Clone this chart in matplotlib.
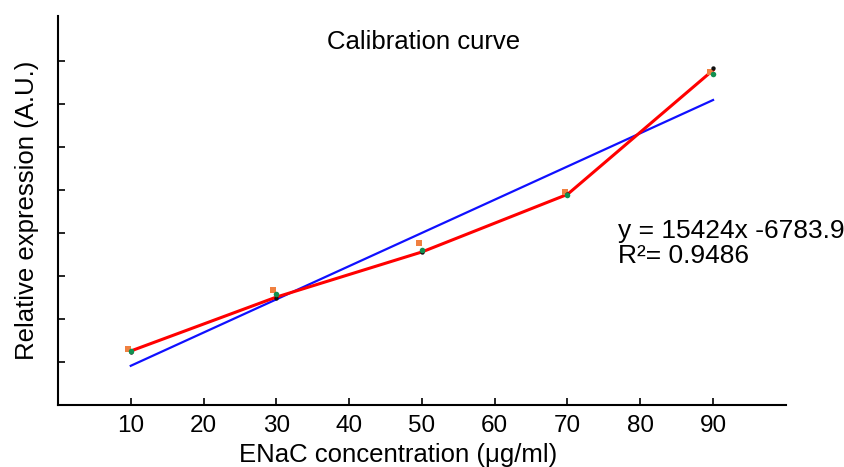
import numpy as np
import matplotlib
matplotlib.use("Agg")
import matplotlib.pyplot as plt

# Data (relative expression, A.U.)
conc = [10, 30, 50, 70, 90]
mean_expr = [12560, 25100, 35600, 49000, 77900]
rep_orange = [13000, 26700, 37700, 49500, 77500]
rep_green = [12500, 25800, 36000, 48900, 77000]
rep_black = [12400, 24800, 35500, 49000, 78400]
xticks = [10, 20, 30, 40, 50, 60, 70, 80, 90]
yticks = [10000, 20000, 30000, 40000, 50000, 60000, 70000, 80000]
eq_text = "y = 15424x -6783.9"
r2_text = "R\u00b2= 0.9486"

FONT = ["Liberation Sans", "DejaVu Sans"]

fig = plt.figure(figsize=(8.45, 4.67), dpi=100)
ax = fig.add_axes([0.0686, 0.1328, 0.8614, 0.833])

# linear fit line
coef = np.polyfit(conc, mean_expr, 1)
xs = np.array([conc[0], conc[-1]])
ax.plot(xs, np.polyval(coef, xs), color="#1010ff", lw=1.6, zorder=2)
ax.plot(conc, mean_expr, color="#ff0000", lw=2.2, zorder=3)

ax.scatter(np.array(conc) - 0.4, rep_orange, marker="s", s=14, color="#f08040", zorder=4, linewidths=0)
ax.scatter(conc, rep_green, marker="o", s=16, color="#109050", zorder=5, linewidths=0)
ax.scatter(conc, rep_black, marker="o", s=10, color="#101010", zorder=4, linewidths=0)

ax.set_xlim(0, 100)
ax.set_ylim(0, 90500)
ax.set_xticks(xticks)
ax.set_yticks(yticks)
ax.set_yticklabels([])
ax.tick_params(axis="both", direction="in", length=5, width=1.2)
ax.tick_params(axis="x", labelsize=17.5, pad=7)
for lab in ax.get_xticklabels():
    lab.set_family(FONT)

for s in ["top", "right"]:
    ax.spines[s].set_visible(False)
for s in ["left", "bottom"]:
    ax.spines[s].set_linewidth(1.5)

ax.set_xlabel("ENaC concentration (\u03bcg/ml)", fontsize=18.5, family=FONT)
ax.xaxis.label.set_va("baseline")
ax.xaxis.set_label_coords(0.468, -0.1465)
ax.set_ylabel("Relative expression (A.U.)", fontsize=18.5, family=FONT)
ax.yaxis.label.set_va("center")
ax.yaxis.set_label_coords(-0.043, 0.5)

fig.text(424 / 845, 1 - 49 / 467, "Calibration curve", ha="center", va="baseline",
         fontsize=18.5, family=FONT)
fig.text(618 / 845, 1 - 238 / 467, eq_text, fontsize=19, family=FONT, va="baseline")
fig.text(618 / 845, 1 - 263 / 467, r2_text, fontsize=19, family=FONT, va="baseline")

fig.savefig("out.png", dpi=100)
